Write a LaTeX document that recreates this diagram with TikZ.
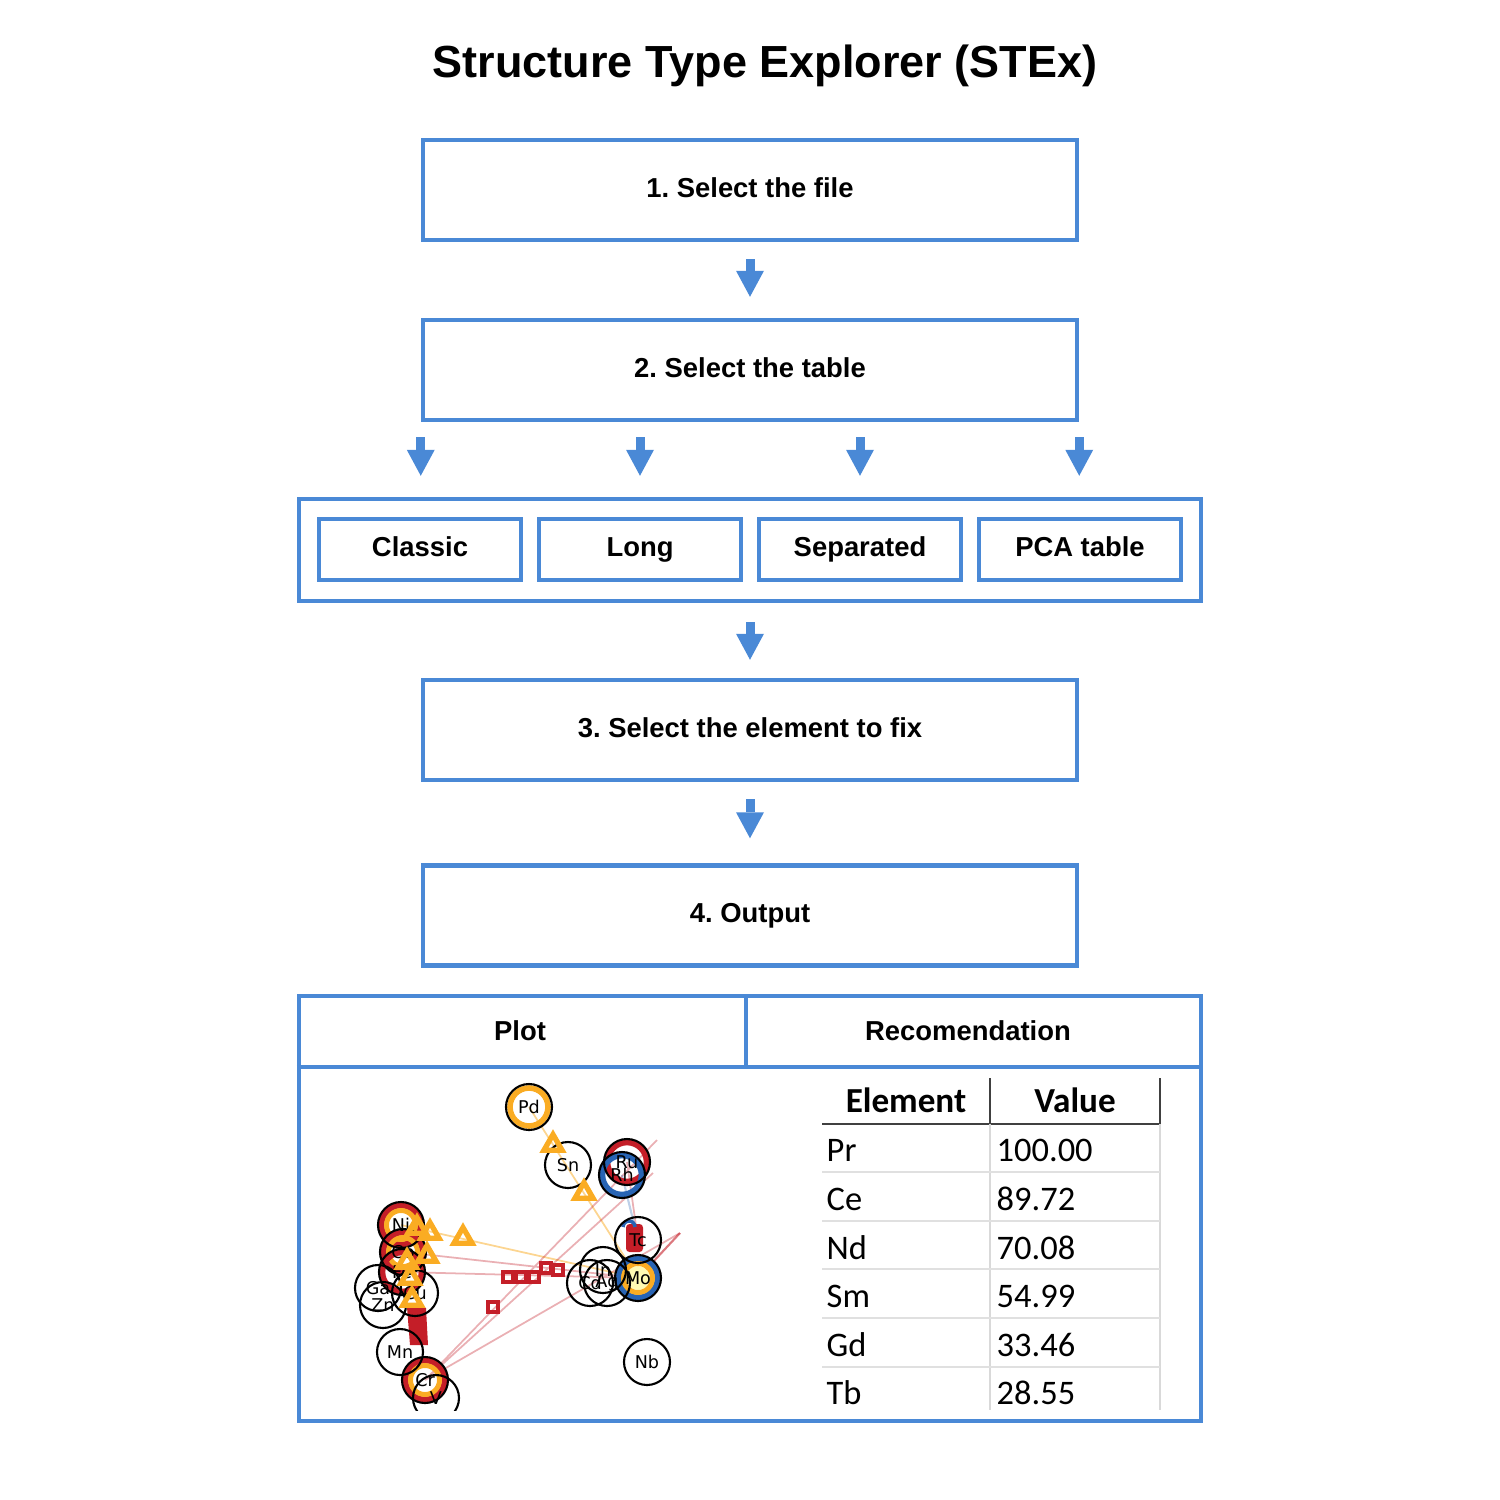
\documentclass[tikz,border=0pt]{standalone}
\usepackage{fontspec}
\setmainfont{Liberation Sans}
\newfontfamily\tabfont{Carlito}
\newfontfamily\plotfont{DejaVu Sans}
\usetikzlibrary{arrows.meta,shapes.geometric}
\definecolor{stexblue}{RGB}{74,137,214}
\definecolor{elred}{RGB}{196,30,40}
\definecolor{elorange}{RGB}{250,172,35}
\definecolor{elblue}{RGB}{40,100,180}
\frenchspacing

\begin{document}
\begin{tikzpicture}[font=\bfseries\fontsize{7.8}{9}\selectfont,>={Triangle[width=2.8mm,length=2.6mm,line width=0pt]},stepbox/.style={draw=stexblue, line width=0.045cm, minimum width=6.54cm, minimum height=1.0cm, inner sep=0pt, text height=1.6ex, text depth=0.8ex},tabbox/.style={draw=stexblue, line width=0.045cm, minimum width=2.02cm, minimum height=0.61cm, inner sep=0pt, text height=1.6ex, text depth=0.8ex},flow/.style={->, stexblue, line width=0.09cm},elem/.style={circle, draw=black, line width=0.6pt, minimum size=0.46cm, inner sep=0pt, font=\plotfont\mdseries\fontsize{5}{6}\selectfont},tri/.style={regular polygon, regular polygon sides=3, draw=elorange, line width=1.5pt, minimum size=0.21cm, inner sep=0pt},sq/.style={rectangle, draw=elred, line width=1.2pt, minimum size=0.10cm, inner sep=0pt},cell/.style={font=\tabfont\mdseries\fontsize{9.8}{12}\selectfont, anchor=west, inner sep=0pt}]
\useasboundingbox (0,0) rectangle (15,-15);
\node[font=\bfseries\fontsize{12.8}{15}\selectfont] (title) at (7.65,-0.66) {Structure Type Explorer (STEx)};
\node[stepbox] (s1) at (7.5,-1.9) {1. Select the file};\node[stepbox] (s2) at (7.5,-3.7) {2. Select the table};
\node[draw=stexblue, line width=0.045cm, minimum width=9.02cm, minimum height=1.02cm] (tables) at (7.5,-5.5) {};
\node[tabbox] (tClassic) at (4.20,-5.495) {Classic};\node[tabbox] (tLong) at (6.40,-5.495) {Long};\node[tabbox] (tSep) at (8.60,-5.495) {Separated};\node[tabbox] (tPCA) at (10.80,-5.495) {PCA table};
\node[stepbox] (s3) at (7.5,-7.3) {3. Select the element to fix};\node[stepbox] (s4) at (7.5,-9.155) {4. Output};
\draw[flow, shorten <=0.17cm, shorten >=0.21cm] (s1) -- (s2);
\foreach \t in {s2.south west,tLong.south,tSep.south,s2.south east} \draw[flow, shorten <=0.15cm, shorten >=0.21cm] (\t |- s2.south) -- (\t |- tables.north);
\draw[flow, shorten <=0.19cm, shorten >=0.18cm] (tables) -- (s3);\draw[flow, shorten <=0.17cm, shorten >=0.25cm] (s3) -- (s4);
\node[draw=stexblue, line width=0.045cm, minimum width=9.02cm, minimum height=4.25cm] (res) at (7.5,-12.085) {};
\coordinate (hdr) at (7.46,-10.67);\draw[stexblue, line width=0.045cm] (res.west |- hdr) -- (res.east |- hdr);\draw[stexblue, line width=0.045cm] (hdr) -- (hdr |- res.north);
\node (hPlot) at (5.2,-10.31) {Plot};\node (hRec) at (9.68,-10.31) {Recomendation};
\begin{scope}
\clip (3.40,-10.75) rectangle (6.95,-14.10);
\foreach \n/\x/\y in {Pd/5.29/-11.07,Sn/5.68/-11.65,Ru/6.27/-11.62,Rh/6.22/-11.75,Tc/6.38/-12.40,Mo/6.38/-12.78,In/6.03/-12.70,Cd/5.90/-12.83,Ag/6.07/-12.83,Nb/6.47/-13.62,Ni/4.01/-12.25,Co/4.03/-12.52,Fe/4.02/-12.72,Ga/3.78/-12.88,Zn/3.83/-13.05,Cu/4.15/-12.93,Mn/4.00/-13.52,Cr/4.25/-13.80,V/4.36/-13.98} \coordinate (p\n) at (\x,\y);
\coordinate (e1) at (6.57,-11.40);\coordinate (e2) at (6.53,-11.73);\coordinate (e3) at (6.80,-12.33);
\draw[elorange, opacity=0.5, line width=0.5pt] (pPd) -- (pMo) (pNi) -- (pMo);
\draw[elred, opacity=0.35, line width=0.5pt] (pCo) -- (pMo) (pFe) -- (pMo) (pCr) -- (e1) (pCr) -- (e2) (pCr) -- (e3) (pRu) -- (pTc);
\draw[elred, opacity=0.6, line width=0.6pt] (pMo) -- (e3);\draw[elblue, opacity=0.3, line width=0.6pt] (pRh) -- (pTc);
\foreach \e in {Ni,Co,Cr} {\draw[elred, line width=1.6pt] (p\e) circle (0.195);\draw[elorange, line width=1.4pt] (p\e) circle (0.145);}
\draw[elred, line width=1.6pt] (pFe) circle (0.195) (pRu) circle (0.195);\draw[elblue, line width=1.6pt] (pRh) circle (0.195);\draw[elorange, line width=1.6pt] (pPd) circle (0.19);
\fill[yellow!30] (pMo) circle (0.12);\draw[elblue, line width=1.6pt] (pMo) circle (0.195);\draw[elorange, line width=1.4pt] (pMo) circle (0.145);
\fill[elred, rounded corners=1pt] (6.26,-12.24) rectangle (6.43,-12.52);\draw[elblue, line width=1pt] (6.35,-12.27) arc (0:180:0.06);
\fill[elred] (4.07,-13.07) -- (4.26,-13.08) -- (4.28,-13.45) -- (4.10,-13.45) -- cycle;
\foreach \n in {Pd,Sn,Ru,Rh,Tc,Mo,In,Cd,Ag,Nb,Ni,Co,Fe,Ga,Zn,Cu,Mn,Cr,V} \node[elem] (\n) at (p\n) {\n};
\foreach \x/\y [count=\i] in {5.53/-11.45,5.84/-11.93,4.63/-12.38,4.30/-12.33,4.17/-12.28,4.27/-12.56,4.07/-12.62,4.10/-12.78,4.12/-13.00} \node[tri] (tri\i) at (\x,\y) {};
\foreach \x/\y [count=\i] in {4.93/-13.07,5.08/-12.77,5.21/-12.77,5.34/-12.77,5.46/-12.68,5.58/-12.70} \node[sq] (sq\i) at (\x,\y) {};
\end{scope}
\node[font=\tabfont\bfseries\fontsize{10}{12}\selectfont] (hElem) at (9.06,-11.0) {Element};\node[font=\tabfont\bfseries\fontsize{10}{12}\selectfont] (hVal) at (10.75,-11.0) {Value};
\foreach \el/\v [count=\i] in {Pr/100.00,Ce/89.72,Nd/70.08,Sm/54.99,Gd/33.46,Tb/28.55} {\node[cell] (el\i) at (8.26,-11.02-0.485*\i) {\el};\node[cell] (val\i) at (9.96,-11.02-0.485*\i) {\v};}
\draw[black!75, line width=0.6pt] (8.22,-11.24) -- (11.60,-11.24) (9.90,-10.78) -- (9.90,-11.24) (11.60,-10.78) -- (11.60,-11.24);
\draw[black!15, line width=0.6pt] (9.90,-11.24) -- (9.90,-14.10) (11.60,-11.24) -- (11.60,-14.10);
\foreach \y in {-11.72,-12.21,-12.69,-13.18,-13.67} \draw[black!12, line width=0.8pt] (8.22,\y) -- (11.60,\y);
\end{tikzpicture}
\end{document}
